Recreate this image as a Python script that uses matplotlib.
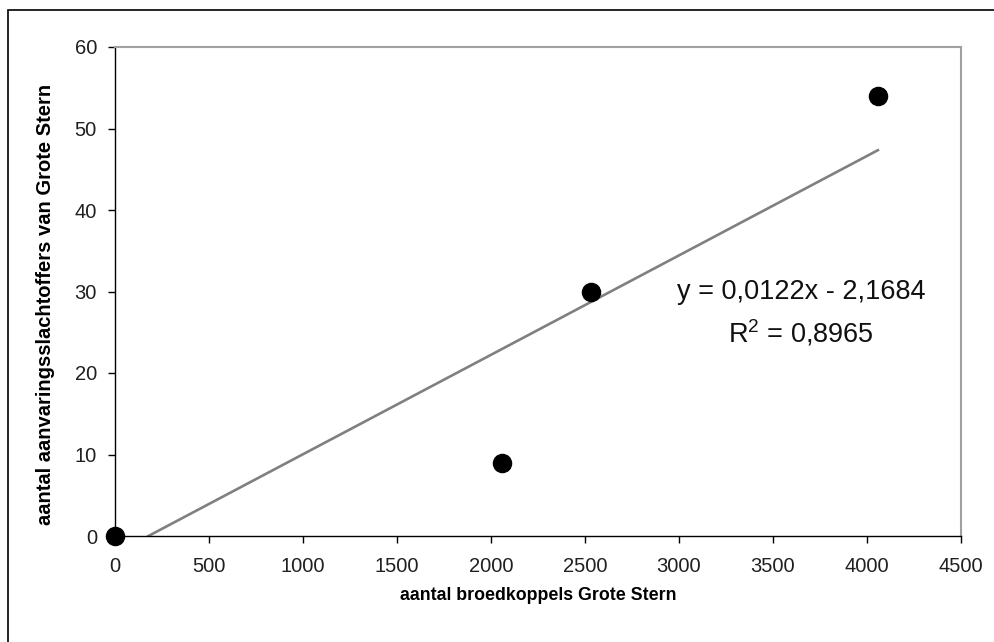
import matplotlib.pyplot as plt
import numpy as np
from matplotlib.patches import Rectangle

plt.rcParams['font.family'] = ['Liberation Sans', 'DejaVu Sans']

# broedkoppels vs aanvaringsslachtoffers
broedkoppels = [0, 2058, 2532, 4058]
slachtoffers = [0, 9, 30, 54]

# trendlijn zoals in de grafiek vermeld
helling = 0.0122
snijpunt = -2.1684
r2 = 0.8965

x_ticks = [0, 500, 1000, 1500, 2000, 2500, 3000, 3500, 4000, 4500]
y_ticks = [0, 10, 20, 30, 40, 50, 60]

fig = plt.figure(figsize=(9.94, 6.42), dpi=100)
ax = fig.add_axes([115 / 994, 1 - 536 / 642, (961 - 115) / 994, (536 - 47) / 642])

# lijn alleen boven y=0 tekenen
x_start = -snijpunt / helling
x_lijn = np.array([x_start, max(broedkoppels)])
ax.plot(x_lijn, helling * x_lijn + snijpunt, color='#808080', linewidth=1.9, zorder=2)

ax.scatter(broedkoppels, slachtoffers, s=170, color='black', zorder=3, clip_on=False)

ax.set_xlim(0, 4500)
ax.set_ylim(0, 60)
ax.set_xticks(x_ticks)
ax.set_yticks(y_ticks)
ax.tick_params(direction='out', length=5, width=1, labelsize=14.5, colors='black')
ax.tick_params(axis='x', pad=10)
ax.tick_params(axis='y', pad=8)
for lbl in ax.get_xticklabels() + ax.get_yticklabels():
    lbl.set_color('#202020')

for s in ['top', 'right']:
    ax.spines[s].set_color('#a0a0a0')
    ax.spines[s].set_linewidth(1.5)
for s in ['left', 'bottom']:
    ax.spines[s].set_color('black')
    ax.spines[s].set_linewidth(1)

ax.set_xlabel('aantal broedkoppels Grote Stern', fontsize=12.8, fontweight='bold', va='center')
ax.set_ylabel('aantal aanvaringsslachtoffers van Grote Stern', fontsize=14.5,
              fontweight='bold', va='center')
ax.xaxis.set_label_coords((538 - 115) / 846, -(596 - 536) / 489)
ax.yaxis.set_label_coords(-(115 - 46) / 846, 0.5 - (304 - 291.5) / 489)

tekst = 'y = 0,0122x - 2,1684\n$\\mathregular{R^2}$ = 0,8965'
ax.text(3649, 27.3, tekst, ha='center', va='center', fontsize=19.5, linespacing=1.5,
        color='#101010')

# kader rond de figuur
fig.patches.append(Rectangle((8 / 994, -0.1), 1.2, 1 - 10 / 642 + 0.1, transform=fig.transFigure,
                             fill=False, edgecolor='black', linewidth=1.2))

fig.savefig('out.png', dpi=100)
